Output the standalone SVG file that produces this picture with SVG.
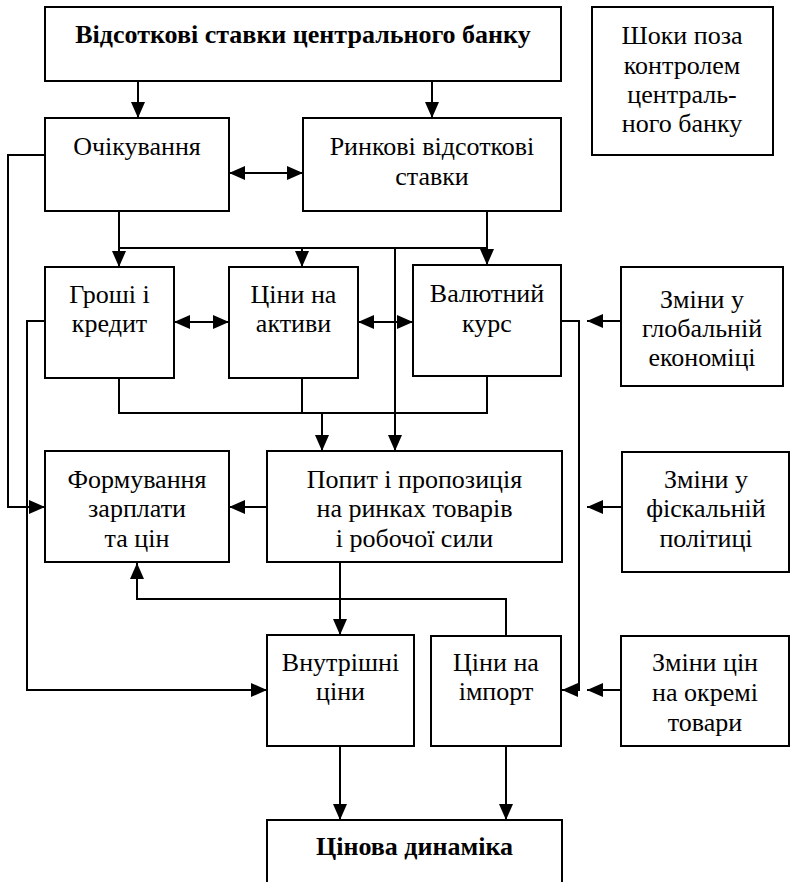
<svg xmlns="http://www.w3.org/2000/svg" width="791" height="882" viewBox="0 0 791 882">
<defs>
<marker id="ah" markerUnits="userSpaceOnUse" markerWidth="16" markerHeight="14" refX="16" refY="7" orient="auto-start-reverse" viewBox="0 0 16 14">
<path d="M0,0 L16,7 L0,14 z" fill="#000"/>
</marker>
<style>
rect{fill:#fff;stroke:#000;stroke-width:2}
text{font-family:'Liberation Serif','Times New Roman',Times,Tinos,'Noto Serif','DejaVu Serif',FreeSerif,serif;font-size:26px;text-anchor:middle;fill:#000}
.b{font-weight:bold}
#connectors path{fill:none;stroke:#000;stroke-width:2}
.a{marker-end:url(#ah)}
.aa{marker-start:url(#ah);marker-end:url(#ah)}
</style>
</defs>
<rect x="0" y="0" width="791" height="882" style="fill:#fff;stroke:none"/>
<g id="connectors">
<path class="a" d="M138,81 V118"/>
<path class="a" d="M432,81 V118"/>
<path class="aa" d="M229,173 H303"/>
<path class="a" d="M119,211 V267"/>
<path d="M119,248 H487"/>
<path class="a" d="M487,211 V265"/>
<path class="a" d="M302,248 V267"/>
<path class="a" d="M395,248 V451"/>
<path class="aa" d="M174,322 H229"/>
<path class="aa" d="M358,322 H413"/>
<path d="M119,378 V413 H487 V376"/>
<path d="M302,378 V413"/>
<path class="a" d="M322,413 V451"/>
<path class="a" d="M561,321 H579 V690 H562"/>
<path class="a" d="M621,321 H587"/>
<path class="a" d="M45,155 H8 V507 H45"/>
<path class="a" d="M45,321 H27 V690 H267"/>
<path class="a" d="M267,507 H229"/>
<path class="a" d="M622,507 H587"/>
<path class="a" d="M506,636 V599 H137 V563"/>
<path class="a" d="M340,562 V635"/>
<path class="a" d="M621,690 H587"/>
<path class="a" d="M340,746 V820"/>
<path class="a" d="M506,746 V820"/>
</g>
<g id="n-rates"><rect x="45" y="7" width="516" height="74"/><text class="b" x="303" y="43">Відсоткові ставки центрального банку</text></g>
<g id="n-shocks"><rect x="592" y="7" width="181" height="148"/><text x="682" y="44">Шоки поза</text><text x="682" y="74">контролем</text><text x="682" y="103">централь-</text><text x="682" y="132">ного банку</text></g>
<g id="n-expect"><rect x="45" y="118" width="184" height="93"/><text x="137" y="155">Очікування</text></g>
<g id="n-market"><rect x="303" y="118" width="258" height="93"/><text x="432" y="155">Ринкові відсоткові</text><text x="432" y="185">ставки</text></g>
<g id="n-money"><rect x="45" y="267" width="129" height="111"/><text x="109.5" y="303">Гроші і</text><text x="109.5" y="332">кредит</text></g>
<g id="n-assets"><rect x="229" y="267" width="129" height="111"/><text x="293.5" y="303">Ціни на</text><text x="293.5" y="332">активи</text></g>
<g id="n-fx"><rect x="413" y="265" width="148" height="111"/><text x="487" y="302">Валютний</text><text x="487" y="332">курс</text></g>
<g id="n-global"><rect x="621" y="267" width="162" height="119"/><text x="702" y="308">Зміни у</text><text x="702" y="337">глобальній</text><text x="702" y="366">економіці</text></g>
<g id="n-wages"><rect x="45" y="451" width="184" height="111"/><text x="137" y="488">Формування</text><text x="137" y="517">зарплати</text><text x="137" y="547">та цін</text></g>
<g id="n-demand"><rect x="267" y="451" width="295" height="111"/><text x="414.5" y="488">Попит і пропозиція</text><text x="414.5" y="517">на ринках товарів</text><text x="414.5" y="547">і робочої сили</text></g>
<g id="n-fiscal"><rect x="622" y="452" width="167" height="120"/><text x="706" y="488">Зміни у</text><text x="706" y="517">фіскальній</text><text x="706" y="547">політиці</text></g>
<g id="n-domestic"><rect x="267" y="635" width="147" height="111"/><text x="340.5" y="671">Внутрішні</text><text x="340.5" y="700">ціни</text></g>
<g id="n-import"><rect x="431" y="636" width="130" height="110"/><text x="496" y="671">Ціни на</text><text x="496" y="700">імпорт</text></g>
<g id="n-commod"><rect x="621" y="636" width="168" height="110"/><text x="705" y="671">Зміни цін</text><text x="705" y="701">на окремі</text><text x="705" y="731">товари</text></g>
<g id="n-infl"><rect x="267" y="820" width="295" height="80"/><text class="b" x="414.5" y="855">Цінова динаміка</text></g>
</svg>
